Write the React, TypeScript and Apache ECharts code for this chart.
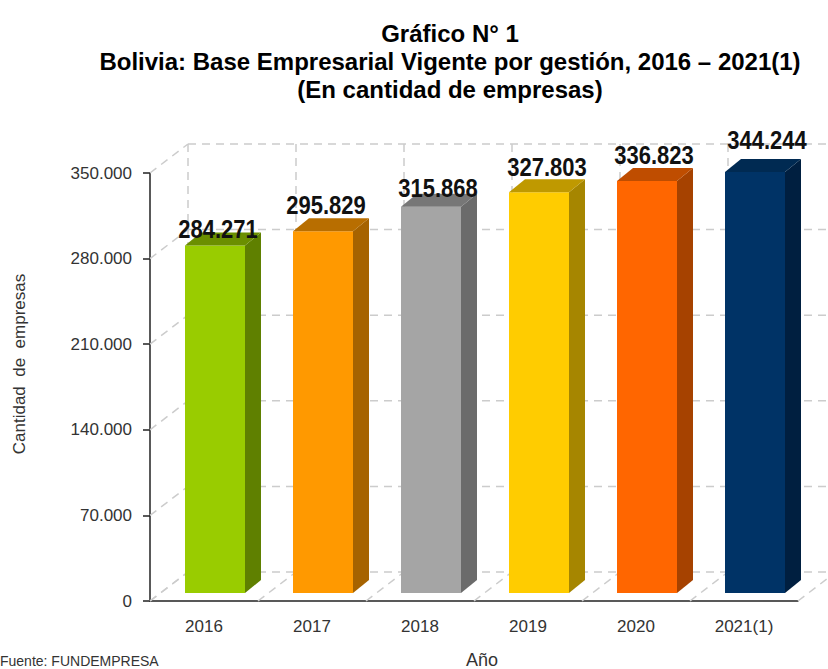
import React, { useEffect, useRef } from "react";
import * as echarts from "echarts";

const categories = ["2016", "2017", "2018", "2019", "2020", "2021(1)"];
const values = [284271, 295829, 315868, 327803, 336823, 344244];
const valueLabels = ["284.271", "295.829", "315.868", "327.803", "336.823", "344.244"];
const yTicks = [0, 70000, 140000, 210000, 280000, 350000];
const yTickLabels = ["0", "70.000", "140.000", "210.000", "280.000", "350.000"];
const frontColors = ["#99CC00", "#FF9900", "#A5A5A5", "#FFCC00", "#FF6600", "#003366"];
const sideColors = ["#5F8000", "#A66300", "#6B6B6B", "#A68600", "#A64200", "#001F40"];
const topColors = ["#6B8F00", "#B86E00", "#777777", "#BF9900", "#BF4D00", "#002A52"];
const labelDx = [3, 3, 7, 8, 7, 12];
const labelDy = [-4, -13, -6, -12, -13, -19];

const SANS = '"Liberation Sans", Arial, sans-serif';
const DEPTH_X = 38;
const DEPTH_Y = -29;
const BAR_SHIFT_X = 11;
const BAR_SHIFT_Y = -8;
const BAR_W = 60;
const BAR_DX = 16;
const BAR_DY = -13;
const GRID_LINE = { stroke: "#CCCCCC", lineWidth: 1.5, lineDash: [8, 6], fill: "none" };

function line(x1: number, y1: number, x2: number, y2: number) {
  return { type: "line", shape: { x1, y1, x2, y2 }, style: GRID_LINE, silent: true };
}

export default function App() {
  const ref = useRef<HTMLDivElement>(null);
  useEffect(() => {
    const chart = echarts.init(ref.current!, undefined, { renderer: "svg" });
    chart.setOption({
      animation: false,
      backgroundColor: "#FFFFFF",
      title: {
        text: "Gráfico N° 1\nBolivia: Base Empresarial Vigente por gestión, 2016 – 2021(1)\n(En cantidad de empresas)",
        left: 445,
        top: 14,
        textAlign: "center",
        textStyle: {
          fontFamily: SANS,
          fontSize: 24,
          fontWeight: "bold",
          color: "#000000",
          lineHeight: 28,
        },
      },
      grid: { left: 150, right: 30, top: 173, bottom: 68, outerBoundsMode: "none" },
      xAxis: {
        type: "category",
        data: categories,
        name: "Año",
        nameLocation: "middle",
        nameGap: 50,
        nameTextStyle: { fontFamily: SANS, fontSize: 18, color: "#333333", padding: [0, 0, 0, 16] },
        axisLine: { lineStyle: { color: "#222222", width: 1.5 } },
        axisTick: { alignWithLabel: false, length: 6, lineStyle: { color: "#222222", width: 1.5 } },
        axisLabel: { fontFamily: SANS, fontSize: 17, color: "#333333", margin: 17 },
        splitLine: { show: false },
      },
      yAxis: {
        type: "value",
        min: 0,
        max: 350000,
        interval: 70000,
        name: "Cantidad  de  empresas",
        nameLocation: "middle",
        nameGap: 122,
        nameRotate: 90,
        nameTextStyle: { fontFamily: SANS, fontSize: 17, color: "#333333", padding: [0, 0, 0, 46] },
        axisLine: { show: true, lineStyle: { color: "#222222", width: 1.5 } },
        axisTick: { show: true, length: 7, lineStyle: { color: "#222222", width: 1.5 } },
        axisLabel: {
          fontFamily: SANS,
          fontSize: 17,
          color: "#333333",
          margin: 18,
          formatter: (v: number) => yTickLabels[yTicks.indexOf(v)] ?? "",
        },
        splitLine: { show: false },
      },
      graphic: [
        {
          type: "text",
          left: 0,
          top: 654,
          style: {
            text: "Fuente: FUNDEMPRESA",
            fontFamily: SANS,
            fontSize: 14,
            fill: "#333333",
          },
        },
      ],
      series: [
        {
          type: "custom",
          name: "walls-y",
          coordinateSystem: "cartesian2d",
          silent: true,
          clip: false,
          z: 1,
          data: yTicks.map((v) => [categories[0], v]),
          renderItem: (_p: any, api: any) => {
            const c = api.coord([api.value(0), api.value(1)]);
            const band = api.size([1, 0])[0];
            const x0 = c[0] - band / 2;
            const xEnd = x0 + band * categories.length;
            return {
              type: "group",
              children: [
                line(x0, c[1], x0 + DEPTH_X, c[1] + DEPTH_Y),
                line(x0 + DEPTH_X, c[1] + DEPTH_Y, xEnd + DEPTH_X, c[1] + DEPTH_Y),
              ],
            };
          },
        },
        {
          type: "custom",
          name: "walls-x",
          coordinateSystem: "cartesian2d",
          silent: true,
          clip: false,
          z: 1,
          data: categories.map((c) => [c, 0]),
          renderItem: (p: any, api: any) => {
            const c = api.coord([api.value(0), 0]);
            const top = api.coord([api.value(0), yTicks[yTicks.length - 1]]);
            const band = api.size([1, 0])[0];
            const make = (x: number) => [
              line(x, c[1], x + DEPTH_X, c[1] + DEPTH_Y),
              line(x + DEPTH_X, c[1] + DEPTH_Y, x + DEPTH_X, top[1] + DEPTH_Y),
            ];
            const children = make(c[0] - band / 2);
            if (p.dataIndex === categories.length - 1) children.push(...make(c[0] + band / 2));
            return { type: "group", children };
          },
        },
        {
          type: "custom",
          name: "Cantidad de empresas",
          coordinateSystem: "cartesian2d",
          clip: false,
          z: 3,
          encode: { x: 0, y: 1 },
          data: categories.map((c, i) => [c, values[i]]),
          renderItem: (p: any, api: any) => {
            const i = p.dataIndex;
            const t = api.coord([api.value(0), api.value(1)]);
            const b = api.coord([api.value(0), 0]);
            const xl = t[0] + BAR_SHIFT_X - BAR_W / 2;
            const xr = xl + BAR_W;
            const yt = t[1] + BAR_SHIFT_Y;
            const yb = b[1] + BAR_SHIFT_Y;
            return {
              type: "group",
              children: [
                {
                  type: "polygon",
                  shape: { points: [[xl, yb], [xr, yb], [xr, yt], [xl, yt]] },
                  style: { fill: frontColors[i] },
                },
                {
                  type: "polygon",
                  shape: { points: [[xr, yb], [xr + BAR_DX, yb + BAR_DY], [xr + BAR_DX, yt + BAR_DY], [xr, yt]] },
                  style: { fill: sideColors[i] },
                },
                {
                  type: "polygon",
                  shape: { points: [[xl, yt], [xr, yt], [xr + BAR_DX, yt + BAR_DY], [xl + BAR_DX, yt + BAR_DY]] },
                  style: { fill: topColors[i] },
                },
                {
                  type: "text",
                  x: t[0] + BAR_SHIFT_X + labelDx[i],
                  y: yt + BAR_DY + labelDy[i],
                  scaleY: 1.2,
                  style: {
                    text: valueLabels[i],
                    fontFamily: SANS,
                    fontWeight: "bold",
                    fontSize: 22,
                    fill: "#111111",
                    align: "center",
                    verticalAlign: "middle",
                  },
                  z2: 10,
                },
              ],
            };
          },
        },
      ],
    });
    return () => chart.dispose();
  }, []);
  return (
    <div
      ref={ref}
      style={{ position: "absolute", left: 0, top: 0, width: 828, height: 669, overflow: "hidden" }}
    />
  );
}
